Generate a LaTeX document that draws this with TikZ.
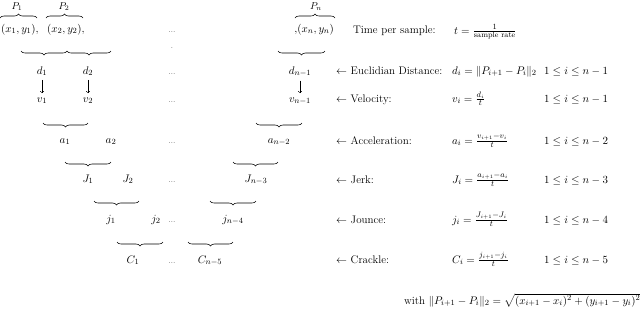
\documentclass[tikz,border=0pt]{standalone}
\usepackage{amsmath}
\usetikzlibrary{decorations.pathreplacing}
\begin{document}
\begin{tikzpicture}[x=1pt,y=1pt,
  every node/.style={inner sep=1pt, font=\fontsize{11}{13}\selectfont},
  lbl/.style={anchor=base},
  lblsmall/.style={anchor=base, font=\fontsize{10}{12}\selectfont},
  txt/.style={anchor=base west},
  dotsnode/.style={anchor=base, font=\fontsize{7}{8}\selectfont},
  brup/.style={decorate, decoration={brace, amplitude=4pt}, line width=0.55pt},
  brdn/.style={decorate, decoration={brace, amplitude=4pt, mirror}, line width=0.55pt},
  arr/.style={-to, line width=0.5pt, shorten <=3pt, shorten >=3pt}]
\useasboundingbox (0,0) rectangle (640,-309);

% top row: points
\node[lblsmall] (P1) at (17,-9) {$P_1$};
\node[lblsmall] (P2) at (64,-9) {$P_2$};
\node[lblsmall] (Pn) at (316,-9) {$P_n$};
\draw[brup] (0,-18) -- (37,-18);
\draw[brup] (46,-18) -- (83,-18);
\draw[brup] (295,-18) -- (335,-18);
\node[anchor=base west] (x1) at (0,-32) {$(x_1,y_1),$};
\node[anchor=base west] (x2) at (46,-32) {$(x_2,y_2),$};
\node[dotsnode] (xdots) at (172,-32) {...};
\node[anchor=base east] (xn) at (335,-32) {$,\!(x_n,y_n)$};
\node[dotsnode] (dot) at (172,-48) {.};

% distance row
\draw[brdn] (21,-51) -- (67,-51);
\draw[brdn] (67,-51) -- (111,-51);
\draw[brdn] (278,-51) -- (325,-51);
\node[lbl] (d1) at (42,-74) {$d_1$};
\node[lbl] (d2) at (88,-74) {$d_2$};
\node[dotsnode] (ddots) at (172,-74) {...};
\node[lbl] (dn) at (300,-74) {$d_{n-1}$};

% velocity row
\node[lbl] (v1) at (42,-102) {$v_1$};
\node[lbl] (v2) at (88,-102) {$v_2$};
\node[dotsnode] (vdots) at (172,-102) {...};
\node[lbl] (vn) at (300,-102) {$v_{n-1}$};
\draw[arr] (d1) -- (v1);
\draw[arr] (d2) -- (v2);
\draw[arr] (dn) -- (vn);

% acceleration row
\draw[brdn] (43,-123) -- (88,-123);
\draw[brdn] (256,-123) -- (302,-123);
\node[lbl] (a1) at (65,-143) {$a_1$};
\node[lbl] (a2) at (111,-143) {$a_2$};
\node[dotsnode] (adots) at (172,-143) {...};
\node[lbl] (an) at (279,-143) {$a_{n-2}$};

% jerk row
\draw[brdn] (65,-162) -- (111,-162);
\draw[brdn] (233,-162) -- (278,-162);
\node[lbl] (J1) at (88,-182) {$J_1$};
\node[lbl] (J2) at (128,-182) {$J_2$};
\node[dotsnode] (Jdots) at (172,-182) {...};
\node[lbl] (Jn) at (256,-182) {$J_{n-3}$};

% jounce row
\draw[brdn] (94,-201) -- (139,-201);
\draw[brdn] (210,-201) -- (256,-201);
\node[lbl] (j1) at (111,-222) {$j_1$};
\node[lbl] (j2) at (156,-222) {$j_2$};
\node[dotsnode] (jdots) at (172,-222) {...};
\node[lbl] (jn) at (233,-222) {$j_{n-4}$};

% crackle row
\draw[brdn] (117,-242) -- (163,-242);
\draw[brdn] (188,-242) -- (233,-242);
\node[lbl] (C1) at (133,-263) {$C_1$};
\node[dotsnode] (Cdots) at (172,-263) {...};
\node[lbl] (Cn) at (210,-263) {$C_{n-5}$};

% right-hand labels
\node[txt] (tl) at (352,-33) {Time per sample:};
\node[txt] (el) at (335,-74) {$\leftarrow$ Euclidian Distance:};
\node[txt] (vl) at (335,-102) {$\leftarrow$ Velocity:};
\node[txt] (al) at (335,-144) {$\leftarrow$ Acceleration:};
\node[txt] (jl) at (335,-183) {$\leftarrow$ Jerk:};
\node[txt] (jol) at (335,-223) {$\leftarrow$ Jounce:};
\node[txt] (cl) at (335,-263) {$\leftarrow$ Crackle:};

% formulas
\node[txt] (tf) at (453,-34) {$t=\frac{1}{\text{sample rate}}$};
\node[txt] (ef) at (451,-74) {$d_i=\|P_{i+1}-P_i\|_2$};
\node[txt] (vf) at (451,-102) {$v_i=\frac{d_i}{t}$};
\node[txt] (af) at (451,-144) {$a_i=\frac{v_{i+1}-v_i}{t}$};
\node[txt] (jf) at (451,-183) {$J_i=\frac{a_{i+1}-a_i}{t}$};
\node[txt] (jof) at (451,-223) {$j_i=\frac{J_{i+1}-J_i}{t}$};
\node[txt] (cf) at (451,-263) {$C_i=\frac{j_{i+1}-j_i}{t}$};

% ranges
\node[txt] (er) at (543,-74) {$1\le i\le n-1$};
\node[txt] (vr) at (543,-102) {$1\le i\le n-1$};
\node[txt] (ar) at (543,-144) {$1\le i\le n-2$};
\node[txt] (jr) at (543,-183) {$1\le i\le n-3$};
\node[txt] (jor) at (543,-223) {$1\le i\le n-4$};
\node[txt] (cr) at (543,-263) {$1\le i\le n-5$};

% footnote formula
\node[txt] (with) at (403,-304) {with $\|P_{i+1}-P_i\|_2=\sqrt{(x_{i+1}-x_i)^2+(y_{i+1}-y_i)^2}$};
\end{tikzpicture}
\end{document}
